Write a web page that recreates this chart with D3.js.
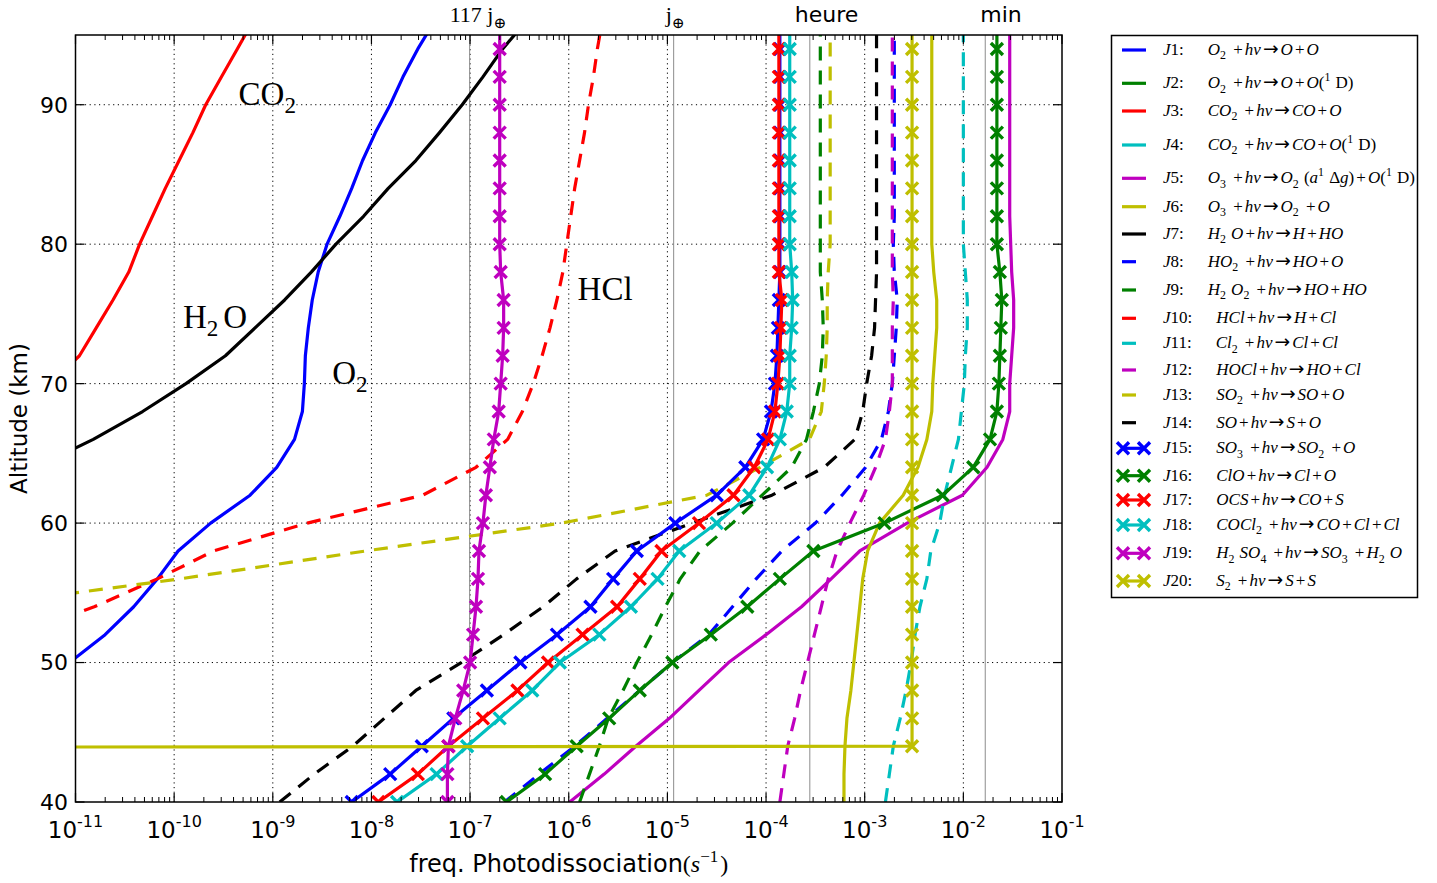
<!DOCTYPE html>
<html><head><meta charset="utf-8">
<script src="https://cdn.jsdelivr.net/npm/d3@7"></script>
<style>body{margin:0;background:#fff}</style></head>
<body><svg id="chart" width="1437" height="883"></svg>
<script>
// ---------------- DATA ----------------
// altitude grid (km) shared by every series
const altitude = [40,42,44,46,48,50,52,54,56,58,60,62,64,66,68,70,72,74,76,78,80,82,84,86,88,90,92,94,96];
// photodissociation rates, stored as log10(J / s^-1); Z = zero rate (log10 0), null = not computed
const Z = -Infinity;
const logJ1  = [null,null,null,null,-11.36,-11.06,-10.70,-10.41,-10.17,-9.96,-9.63,-9.23,-8.96,-8.78,-8.70,-8.68,-8.67,-8.64,-8.60,-8.54,-8.45,-8.32,-8.20,-8.09,-7.96,-7.81,-7.68,-7.53,-7.36];
const logJ2  = [Z,Z,Z,Z,Z,Z,Z,Z,Z,Z,Z,Z,Z,Z,Z,Z,Z,Z,Z,Z,Z,Z,Z,Z,Z,Z,Z,Z,Z];
const logJ3  = [null,null,null,null,null,null,null,null,null,null,null,null,null,null,null,-11.25,-10.96,-10.79,-10.62,-10.46,-10.35,-10.22,-10.09,-9.95,-9.81,-9.68,-9.52,-9.36,-9.20];
const logJ4  = [Z,Z,Z,Z,Z,Z,Z,Z,Z,Z,Z,Z,Z,Z,Z,Z,Z,Z,Z,Z,Z,Z,Z,Z,Z,Z,Z,Z,Z];
const logJ5  = [-5.99,-5.64,-5.32,-4.98,-4.68,-4.38,-4.00,-3.64,-3.34,-3.05,-2.57,-2.01,-1.76,-1.60,-1.53,-1.53,-1.51,-1.49,-1.49,-1.51,-1.52,-1.53,-1.53,-1.53,-1.53,-1.53,-1.53,-1.53,-1.53];
const logJ6  = [-3.21,-3.21,-3.20,-3.18,-3.14,-3.11,-3.08,-3.05,-3.02,-2.97,-2.85,-2.61,-2.46,-2.37,-2.32,-2.31,-2.29,-2.27,-2.27,-2.30,-2.32,-2.32,-2.32,-2.32,-2.32,-2.32,-2.32,-2.32,-2.32];
const logJ7  = [null,null,null,null,null,null,null,null,null,null,null,null,-11.40,-10.82,-10.32,-9.88,-9.48,-9.18,-8.88,-8.61,-8.36,-8.08,-7.83,-7.55,-7.31,-7.08,-6.87,-6.67,-6.43];
const logJ8  = [-6.65,-6.30,-5.94,-5.61,-5.28,-4.95,-4.58,-4.34,-4.10,-3.84,-3.50,-3.23,-2.99,-2.83,-2.76,-2.72,-2.70,-2.68,-2.67,-2.70,-2.71,-2.70,-2.70,-2.70,-2.70,-2.70,-2.70,-2.70,-2.70];
const logJ9  = [-5.89,-5.79,-5.69,-5.60,-5.45,-5.31,-5.16,-5.02,-4.87,-4.67,-4.34,-4.04,-3.74,-3.59,-3.52,-3.46,-3.43,-3.42,-3.43,-3.45,-3.45,-3.45,-3.45,-3.45,-3.45,-3.45,-3.45,-3.45,-3.45];
const logJ10 = [null,null,null,null,null,null,-11.60,-10.81,-10.17,-9.60,-8.65,-7.48,-6.94,-6.62,-6.47,-6.36,-6.27,-6.19,-6.12,-6.06,-6.02,-5.98,-5.94,-5.89,-5.84,-5.80,-5.75,-5.71,-5.66];
const logJ11 = [-2.79,-2.75,-2.71,-2.64,-2.58,-2.53,-2.49,-2.44,-2.37,-2.33,-2.24,-2.19,-2.12,-2.05,-2.02,-1.99,-1.98,-1.96,-1.96,-1.98,-2.00,-2.00,-2.00,-2.00,-2.00,-2.00,-2.00,-2.00,-2.00];
const logJ12 = [-3.86,-3.82,-3.78,-3.71,-3.65,-3.58,-3.51,-3.44,-3.37,-3.28,-3.15,-3.01,-2.89,-2.79,-2.75,-2.72,-2.72,-2.72,-2.71,-2.72,-2.72,-2.72,-2.72,-2.72,-2.72,-2.72,-2.72,-2.72,-2.72];
const logJ13 = [null,null,null,null,null,null,null,-12.07,-9.94,-8.06,-6.07,-4.60,-4.06,-3.56,-3.44,-3.41,-3.39,-3.38,-3.38,-3.37,-3.35,-3.35,-3.35,-3.35,-3.35,-3.35,-3.35,-3.35,-3.35];
const logJ14 = [-8.93,-8.58,-8.19,-7.87,-7.55,-7.09,-6.66,-6.26,-5.92,-5.53,-4.75,-3.94,-3.41,-3.10,-3.02,-2.98,-2.93,-2.90,-2.89,-2.88,-2.88,-2.88,-2.88,-2.88,-2.88,-2.88,-2.88,-2.88,-2.88];
const logJ15 = [-8.20,-7.81,-7.49,-7.17,-6.83,-6.49,-6.12,-5.78,-5.55,-5.31,-4.92,-4.50,-4.21,-4.03,-3.95,-3.91,-3.89,-3.88,-3.87,-3.86,-3.86,-3.86,-3.86,-3.86,-3.86,-3.86,-3.86,-3.86,-3.86];
const logJ16 = [-6.63,-6.24,-5.92,-5.59,-5.28,-4.95,-4.56,-4.19,-3.86,-3.52,-2.80,-2.21,-1.90,-1.73,-1.66,-1.64,-1.63,-1.62,-1.61,-1.63,-1.66,-1.66,-1.66,-1.66,-1.66,-1.66,-1.66,-1.66,-1.66];
const logJ17 = [-7.93,-7.53,-7.22,-6.87,-6.52,-6.21,-5.86,-5.51,-5.28,-5.06,-4.68,-4.33,-4.12,-3.98,-3.91,-3.88,-3.86,-3.85,-3.84,-3.87,-3.87,-3.87,-3.87,-3.87,-3.87,-3.87,-3.87,-3.87,-3.87];
const logJ18 = [-7.74,-7.34,-7.03,-6.70,-6.37,-6.09,-5.69,-5.37,-5.10,-4.88,-4.50,-4.17,-3.99,-3.86,-3.79,-3.76,-3.76,-3.74,-3.73,-3.74,-3.76,-3.76,-3.76,-3.76,-3.76,-3.76,-3.76,-3.76,-3.76];
const logJ19 = [-7.23,-7.23,-7.22,-7.15,-7.07,-7.00,-6.97,-6.94,-6.92,-6.91,-6.87,-6.84,-6.80,-6.76,-6.71,-6.69,-6.67,-6.66,-6.66,-6.69,-6.70,-6.70,-6.70,-6.70,-6.70,-6.70,-6.70,-6.70,-6.70];
const logJ20 = [Z,Z,-2.52,-2.52,-2.52,-2.52,-2.52,-2.52,-2.52,-2.52,-2.52,-2.52,-2.52,-2.52,-2.52,-2.52,-2.52,-2.52,-2.52,-2.52,-2.52,-2.52,-2.52,-2.52,-2.52,-2.52,-2.52,-2.52,-2.52];

// legend labels (mini math markup: _x subscript, ^x superscript, {..} upright)
const reactions = [
  "O_2+h\u03bd\u2192O+O", "O_2+h\u03bd\u2192O+O(^1{D})", "CO_2+h\u03bd\u2192CO+O", "CO_2+h\u03bd\u2192CO+O(^1{D})",
  "O_3+h\u03bd\u2192O_2(a^1{\u0394}g)+O(^1{D})", "O_3+h\u03bd\u2192O_2+O", "H_2O+h\u03bd\u2192H+HO", "HO_2+h\u03bd\u2192HO+O",
  "H_2O_2+h\u03bd\u2192HO+HO", "HCl+h\u03bd\u2192H+Cl", "Cl_2+h\u03bd\u2192Cl+Cl", "HOCl+h\u03bd\u2192HO+Cl",
  "SO_2+h\u03bd\u2192SO+O", "SO+h\u03bd\u2192S+O", "SO_3+h\u03bd\u2192SO_2+O", "ClO+h\u03bd\u2192Cl+O",
  "OCS+h\u03bd\u2192CO+S", "COCl_2+h\u03bd\u2192CO+Cl+Cl", "H_2SO_4+h\u03bd\u2192SO_3+H_2O", "S_2+h\u03bd\u2192S+S"
];
const seriesValues = [logJ1,logJ2,logJ3,logJ4,logJ5,logJ6,logJ7,logJ8,logJ9,logJ10,logJ11,logJ12,logJ13,logJ14,logJ15,logJ16,logJ17,logJ18,logJ19,logJ20];

// axis ticks
const xTickExponents = [-11,-10,-9,-8,-7,-6,-5,-4,-3,-2,-1];
const yTicks = [40,50,60,70,80,90];
// reference time scales (s^-1)
const refLabels = ["117 j_\u2295", "j_\u2295", "heure", "min"];
const refValues = [1/(117*86400), 1/86400, 1/3600, 1/60];
// molecule annotations (data coords)
const annoText = ["CO_2", "H_2O", "O_2", "HCl"];
const annoX    = [4.5e-10, 1.23e-10, 4.0e-9, 1.23e-6];
const annoAlt  = [90, 74, 70, 76];

// ---------------- STYLE / LAYOUT ----------------
const SERIF = "'Liberation Serif','DejaVu Serif',serif";
const SANS  = "'DejaVu Sans',sans-serif";
const colorCycle = ['#0000ff','#008000','#ff0000','#00bfbf','#bf00bf','#bfbf00','#000000'];
const P = {left:75.5, right:1062, top:35, bottom:802};
const LW = 3.2, DASH = "14,10";
const refLabelDx = [-20, -8, -15, -5];
const legendRowY = [50,83.3,111,145,178.3,206.7,234,261.7,290,318.3,343.3,370,395,422.7,448.3,475.7,500,525,553.3,581];
const LEG_FS = 17;

const svg = d3.select('#chart');
const x = d3.scaleLog().domain([1e-11,1e-1]).range([P.left,P.right]);
const y = d3.scaleLinear().domain([40,95]).range([P.bottom,P.top]);
const xv = v => x(Math.pow(10, Math.max(v, -300)));   // zero rates clipped like matplotlib

function parseMath(m){
  const out=[]; let i=0;
  while(i<m.length){
    const c=m[i];
    if(c==='_'||c==='^'){ out.push({t:m[i+1],k:c==='_'?'sub':'sup'}); i+=2; }
    else if(c==='{'){ const j=m.indexOf('}',i); out.push({t:m.slice(i+1,j),k:'rm'}); i=j+1; }
    else if(c==='+'){ out.push({t:c,k:'op'}); i++; }
    else if(c==='\u2192'){ out.push({t:c,k:'arrow'}); i++; }
    else if(/[A-Za-z\u03bd]/.test(c)){ out.push({t:c,k:'it'}); i++; }
    else { out.push({t:c,k:'rm'}); i++; }
  }
  const merged=[];
  for(const s of out){
    const last=merged[merged.length-1];
    if(last && last.k===s.k && (s.k==='it'||s.k==='rm')) last.t+=s.t; else merged.push({...s});
  }
  return merged;
}
function mathText(parent, markup, size, opt={}){
  const upright = !!opt.upright, gapF = opt.gap===undefined?0.3:opt.gap;
  const opGap = opt.opGap===undefined?0.12:opt.opGap;
  const t = parent.append('text').attr('font-family',SERIF).attr('font-size',size);
  let shift=0, gap=0;
  parseMath(markup).forEach(s=>{
    const isScript = s.k==='sub'||s.k==='sup';
    const isOp = s.k==='op'||s.k==='arrow';
    const target = s.k==='sub'? 0.25*size : s.k==='sup'? -0.42*size : 0;
    const ts = t.append('tspan').text(s.t)
      .attr('font-size', isScript?0.7*size:(s.k==='arrow'?size*1.1:size))
      .attr('font-style', (s.k==='it'&&!upright)?'italic':'normal');
    if(s.k==='arrow') ts.attr('font-family',SANS);
    if(target-shift!==0) ts.attr('dy', target-shift);
    const dx = gap + (isOp? opGap*size : 0);
    if(dx) ts.attr('dx', dx);
    shift=target;
    gap = isScript? gapF*size : (isOp? opGap*size : 0);
  });
  return t;
}

// clip
svg.append('defs').append('clipPath').attr('id','clip')
  .append('rect').attr('x',P.left).attr('y',P.top).attr('width',P.right-P.left).attr('height',P.bottom-P.top);

// grid
const grid = svg.append('g').attr('stroke','#000').attr('stroke-width',1).attr('stroke-dasharray','1.2,3.5');
xTickExponents.slice(1,-1).forEach(e=>{
  grid.append('line').attr('x1',x(Math.pow(10,e))).attr('x2',x(Math.pow(10,e))).attr('y1',P.top).attr('y2',P.bottom);
});
yTicks.slice(1).forEach(a=>{
  grid.append('line').attr('x1',P.left).attr('x2',P.right).attr('y1',y(a)).attr('y2',y(a));
});

// reference lines
const refG = svg.append('g');
refValues.forEach((v,i)=>{
  refG.append('line').attr('x1',x(v)).attr('x2',x(v)).attr('y1',P.top).attr('y2',P.bottom)
    .attr('stroke','#8c8c8c').attr('stroke-width',1);
  if(i<2){
    mathText(refG, refLabels[i], 22, {upright:true, gap:0.1}).attr('x',x(v)+refLabelDx[i]).attr('y',22);
  } else {
    refG.append('text').attr('x',x(v)+refLabelDx[i]).attr('y',22).attr('font-family',SANS).attr('font-size',22).text(refLabels[i]);
  }
});

// series
const plotG = svg.append('g').attr('clip-path','url(#clip)');
const line = d3.line().defined(d=>d.v!==null).x(d=>xv(d.v)).y(d=>y(d.a));
const xMarker = "M-6,-6L6,6M-6,6L6,-6";
seriesValues.forEach((vals,i)=>{
  const color = colorCycle[i%7];
  const pts = altitude.map((a,k)=>({a, v:vals[k]}));
  const p = plotG.append('path').attr('d',line(pts)).attr('fill','none')
    .attr('stroke',color).attr('stroke-width',LW).attr('stroke-linejoin','round');
  if(i>=7 && i<14) p.attr('stroke-dasharray',DASH);
  if(i>=14){
    plotG.append('g').selectAll('path').data(pts.filter(d=>d.v!==null)).join('path')
      .attr('d',xMarker).attr('transform',d=>`translate(${xv(d.v)},${y(d.a)})`)
      .attr('stroke',color).attr('stroke-width',3.4).attr('fill','none');
  }
});

// annotations
annoText.forEach((t,i)=>{
  mathText(svg, t, 33, {upright:true, gap:0.15}).attr('x',x(annoX[i])).attr('y',y(annoAlt[i]));
});

// frame & ticks
const ax = svg.append('g').attr('stroke','#000');
ax.append('rect').attr('x',P.left).attr('y',P.top).attr('width',P.right-P.left).attr('height',P.bottom-P.top)
  .attr('fill','none').attr('stroke-width',1.5);
xTickExponents.forEach(e=>{
  const xx=x(Math.pow(10,e));
  ax.append('line').attr('x1',xx).attr('x2',xx).attr('y1',P.bottom).attr('y2',P.bottom-9).attr('stroke-width',1.2);
  ax.append('line').attr('x1',xx).attr('x2',xx).attr('y1',P.top).attr('y2',P.top+9).attr('stroke-width',1.2);
  if(e<-1) for(let k=2;k<=9;k++){
    const xm=x(k*Math.pow(10,e));
    ax.append('line').attr('x1',xm).attr('x2',xm).attr('y1',P.bottom).attr('y2',P.bottom-5).attr('stroke-width',1);
    ax.append('line').attr('x1',xm).attr('x2',xm).attr('y1',P.top).attr('y2',P.top+5).attr('stroke-width',1);
  }
});
yTicks.forEach(a=>{
  ax.append('line').attr('x1',P.left).attr('x2',P.left+9).attr('y1',y(a)).attr('y2',y(a)).attr('stroke-width',1.2);
  ax.append('line').attr('x1',P.right).attr('x2',P.right-9).attr('y1',y(a)).attr('y2',y(a)).attr('stroke-width',1.2);
});

// tick labels
const tl = svg.append('g').attr('font-family',SANS).attr('fill','#000');
xTickExponents.forEach(e=>{
  const t = tl.append('text').attr('x',x(Math.pow(10,e))).attr('y',838).attr('text-anchor','middle').attr('font-size',23);
  t.append('tspan').text('10');
  t.append('tspan').attr('font-size',16).attr('dy',-11).text(String(e));
});
yTicks.forEach(a=>{
  tl.append('text').attr('x',68).attr('y',y(a)).attr('dy','0.36em').attr('text-anchor','end').attr('font-size',22).text(a);
});

// axis labels
svg.append('text').attr('transform',`translate(27,${(P.top+P.bottom)/2}) rotate(-90)`).attr('text-anchor','middle')
  .attr('font-family',SANS).attr('font-size',23).text('Altitude (km)');
const xl = svg.append('text').attr('x',(P.left+P.right)/2).attr('y',872).attr('text-anchor','middle').attr('font-size',24);
xl.append('tspan').attr('font-family',SANS).text('freq. Photodissociation');
xl.append('tspan').attr('font-family',SERIF).text('(');
xl.append('tspan').attr('font-family',SERIF).attr('font-style','italic').text('s');
xl.append('tspan').attr('font-family',SERIF).attr('font-size',17).attr('dy',-10).text('\u22121');
xl.append('tspan').attr('font-family',SERIF).attr('dy',10).attr('dx',2).text(')');

// legend
const lg = svg.append('g');
lg.append('rect').attr('x',1111.5).attr('y',35.5).attr('width',306).attr('height',562)
  .attr('fill','#fff').attr('stroke','#000').attr('stroke-width',1.5);
reactions.forEach((r,i)=>{
  const cy = legendRowY[i], color = colorCycle[i%7];
  if(i<14){
    const l = lg.append('line').attr('x1',1122).attr('x2',1146).attr('y1',cy).attr('y2',cy)
      .attr('stroke',color).attr('stroke-width',LW);
    if(i>=7) l.attr('stroke-dasharray',DASH);
  } else {
    lg.append('line').attr('x1',1123).attr('x2',1144).attr('y1',cy).attr('y2',cy).attr('stroke',color).attr('stroke-width',LW);
    [1123,1144].forEach(mx=>lg.append('path').attr('d',xMarker).attr('transform',`translate(${mx},${cy})`)
      .attr('stroke',color).attr('stroke-width',3.4).attr('fill','none'));
  }
  const jl = mathText(lg, 'J'+(i+1)+':', LEG_FS).attr('x',1163).attr('y',cy+5);
  const w = jl.node().getComputedTextLength();
  mathText(lg, r, LEG_FS).attr('x',1163+w+24).attr('y',cy+5);
});
</script></body></html>
